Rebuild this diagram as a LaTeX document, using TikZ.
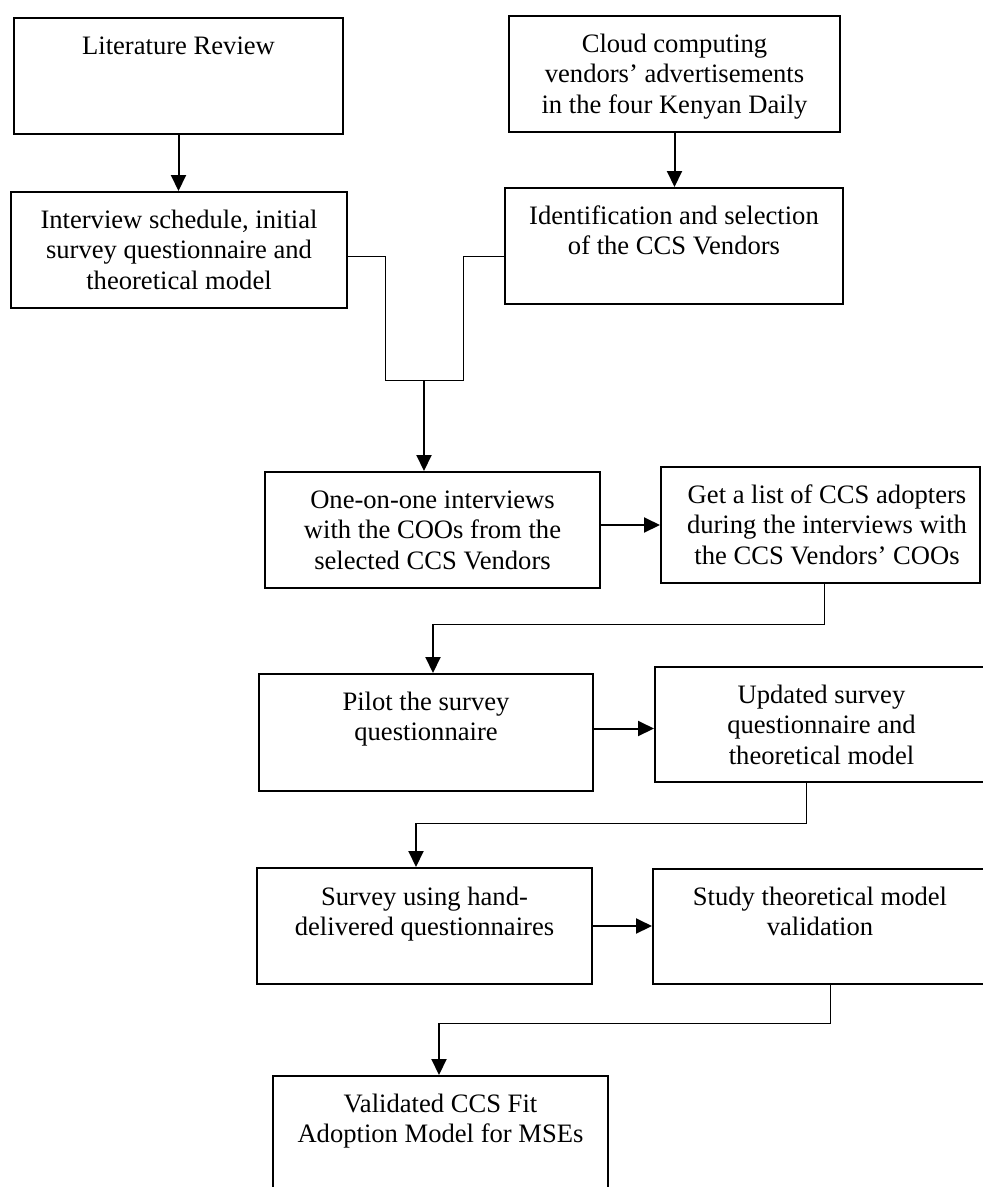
\documentclass[tikz,border=0pt]{standalone}
\usepackage{fontspec}
\setmainfont{Liberation Serif}
\usetikzlibrary{arrows.meta,calc}
\newcommand{\bxt}[1]{\begin{tabular}[t]{@{}c@{}}#1\end{tabular}}
\tikzset{
  boxst/.style={draw=black, line width=2pt, rectangle, inner sep=0pt, minimum height=116pt},
  txt/.style={anchor=base, inner sep=0pt, font=\fontsize{26.6}{30.6}\selectfont},
  arr/.style={line width=2pt, -{Triangle[length=16pt,width=15pt]}},
  thinln/.style={line width=1pt},
}
\begin{document}
\begin{tikzpicture}[x=1pt,y=-1pt]
\useasboundingbox (0,0) rectangle (983,1187);
\clip (0,0) rectangle (983,1187);
\fill[white] (0,0) rectangle (983,1187);

% boxes
\node[boxst, minimum width=329pt] (lit) at (178.5,76) {};
\node[boxst, minimum width=331pt] (cloud) at (674.5,74) {};
\node[boxst, minimum width=336pt] (intv) at (179,250) {};
\node[boxst, minimum width=338pt] (ident) at (674,246) {};
\node[boxst, minimum width=335pt] (one) at (432.5,530) {};
\node[boxst, minimum width=319pt] (list) at (820.5,525) {};
\node[boxst, minimum width=334pt, minimum height=117pt] (pilot) at (426,732.5) {};
\node[boxst, minimum width=333pt, minimum height=115pt] (upd) at (821.5,724.5) {};
\node[boxst, minimum width=335pt] (survey) at (424.5,926) {};
\node[boxst, minimum width=334pt, minimum height=115pt] (study) at (820,926.5) {};
\node[boxst, minimum width=335pt] (valid) at (440.5,1134) {};

% texts
\node[txt] (tlit) at (178.5,54) {\bxt{Literature Review}};
\node[txt] (tcloud) at (674.5,52) {\bxt{Cloud computing\\vendors’ advertisements\\in the four Kenyan Daily}};
\node[txt] (tintv) at (179,228) {\bxt{Interview schedule, initial\\survey questionnaire and\\theoretical model}};
\node[txt] (tident) at (674,224) {\bxt{Identification and selection\\of the CCS Vendors}};
\node[txt] (tone) at (432.5,508) {\bxt{One-on-one interviews\\with the COOs from the\\selected CCS Vendors}};
\node[txt] (tlist) at (827,503) {\bxt{Get a list of CCS adopters\\during the interviews with\\the CCS Vendors’ COOs}};
\node[txt] (tpilot) at (426,710) {\bxt{Pilot the survey\\questionnaire}};
\node[txt] (tupd) at (821.5,703) {\bxt{Updated survey\\questionnaire and\\theoretical model}};
\node[txt] (tsurvey) at (424.5,905) {\bxt{Survey using hand-\\delivered questionnaires}};
\node[txt] (tstudy) at (820,905) {\bxt{Study theoretical model\\validation}};
\node[txt] (tvalid) at (440.5,1112) {\bxt{Validated CCS Fit\\Adoption Model for MSEs}};

% straight arrows
\draw[arr] (lit.south) -- (lit.south |- intv.north);
\draw[arr] (cloud.south) -- (cloud.south |- ident.north);
\draw[arr] (one.east |- list.west) -- (list.west);
\coordinate (m1) at ($(pilot.east)!.5!(upd.west)$);
\draw[arr] (pilot.east |- m1) -- (upd.west |- m1);
\draw[arr] (survey.east) -- (survey.east -| study.west);

% elbow 1 (merge)
\coordinate (ja) at (385,256);
\coordinate (jb) at (385,380);
\coordinate (jc) at (463,380);
\coordinate (jd) at (463,256);
\coordinate (jm) at (424,380);
\draw[thinln] (intv.east |- ja) -- (ja) -- (jb) -- (jc) -- (jd) -- (ident.west |- jd);
\draw[arr] (jm) -- (jm |- one.north);

% elbow 2
\coordinate (ea) at (824,624);
\coordinate (eb) at (433,624);
\draw[thinln] (list.south -| ea) -- (ea) -- (eb);
\draw[arr] (eb) -- (eb |- pilot.north);

% elbow 3
\coordinate (fa) at (806,823);
\coordinate (fb) at (416,823);
\draw[thinln] (upd.south -| fa) -- (fa) -- (fb);
\draw[arr] (fb) -- (fb |- survey.north);

% elbow 4
\coordinate (ga) at (830,1023);
\coordinate (gb) at (439,1023);
\draw[thinln] (study.south -| ga) -- (ga) -- (gb);
\draw[arr] (gb) -- (gb |- valid.north);
\end{tikzpicture}
\end{document}
